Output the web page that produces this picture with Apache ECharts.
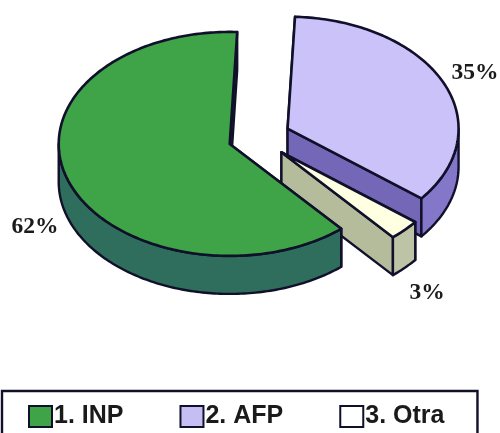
<!DOCTYPE html>
<html><head><meta charset="utf-8"><style>html,body{margin:0;padding:0;background:#fff}#c{width:500px;height:433px}</style>
<script src="https://cdn.jsdelivr.net/npm/echarts@6/dist/echarts.min.js"></script></head>
<body><div id="c"></div>
<script>
var names = ['1. INP', '2. AFP', '3. Otra'];
var values = [62, 35, 3];

var colorsTop = ['#3FA348', '#CCC2FA', '#FFFFE2'];
var colorsRim = ['#2F6E5C', '#8476C8', '#BDC4A6'];
var colorsCut = ['#2F6E5C', '#7467B8', '#B4BC9C'];
var legendColors = ['#3FA348', '#C6BEF2', '#FFFFFF'];
var labelPos = [[35, 227], [475, 73], [427, 293]];
var explode = [0.175, 0.19, 0.19];
var order = [3, 1, 2];
var ink = '#10102A';

var CX = 258, CY = 137.5, RX = 171, RY = 112, DEPTH = 38;
var START = -49.3; // first slice starts here and runs clockwise
var total = values.reduce(function (a, b) { return a + b; }, 0);

function sliceOf(i) {
  var before = 0;
  for (var k = 0; k < i; k++) before += values[k];
  var a0 = START - before / total * 360;
  var a1 = a0 - values[i] / total * 360;
  var mid = (a0 + a1) / 2 * Math.PI / 180;
  return {
    a0: a0, a1: a1,
    ox: CX + explode[i] * RX * Math.cos(mid),
    oy: CY - explode[i] * RY * Math.sin(mid)
  };
}
function pt(s, deg, dz) {
  var t = deg * Math.PI / 180;
  return [s.ox + RX * Math.cos(t), s.oy - RY * Math.sin(t) + (dz || 0)];
}
function arc(s, from, to, dz) {
  var pts = [], n = Math.max(2, Math.ceil(Math.abs(from - to)));
  for (var j = 0; j <= n; j++) pts.push(pt(s, from + (to - from) * j / n, dz));
  return pts;
}
function poly(points, fill, width) {
  return { type: 'polygon', shape: { points: points },
    style: { fill: fill, stroke: ink, lineWidth: width || 2.4, lineJoin: 'round' } };
}
function renderSlice(i) {
  var s = sliceOf(i), kids = [];
  var apex = [s.ox, s.oy], apexLow = [s.ox, s.oy + DEPTH];
  [s.a0, s.a1].forEach(function (a) {
    kids.push(poly([apex, pt(s, a), pt(s, a, DEPTH), apexLow], colorsCut[i]));
  });
  // outer rim: only the front half of the ellipse is visible
  for (var base = -360; base < 360; base += 360) {
    var hi = Math.min(s.a0, base), lo = Math.max(s.a1, base - 180);
    if (hi > lo) {
      kids.push(poly(arc(s, hi, lo, 0).concat(arc(s, lo, hi, DEPTH)), colorsRim[i]));
    }
  }
  kids.push(poly([apex].concat(arc(s, s.a0, s.a1, 0)), colorsTop[i], 2.6));
  kids.push({ type: 'text', silent: true, z2: 10,
    style: { x: labelPos[i][0], y: labelPos[i][1], text: values[i] + '%',
      fill: '#1A1A1A', align: 'center', verticalAlign: 'middle',
      font: 'bold 23.5px "Liberation Serif"' } });
  return { type: 'group', children: kids };
}

var chart = echarts.init(document.getElementById('c'), null, { renderer: 'canvas' });
chart.setOption({
  animation: false,
  backgroundColor: '#ffffff',
  legend: {
    left: 2, top: 391,
    padding: [13, 33, 7, 26],
    itemGap: 56, itemWidth: 23, itemHeight: 21,
    borderColor: ink, borderWidth: 2.4,
    selectedMode: false,
    textStyle: { fontFamily: 'Liberation Sans', fontWeight: 'bold', fontSize: 25, color: '#1A1A1A', padding: [0, 0, 0, -3] },
    data: names.map(function (n, i) {
      return { name: n, icon: 'rect',
        itemStyle: { color: legendColors[i], borderColor: ink, borderWidth: 2 } };
    })
  },
  series: names.map(function (n, i) {
    return {
      type: 'custom', name: n, coordinateSystem: 'none', z: order[i],
      silent: true, clip: false,
      data: [values[i]],
      renderItem: function () { return renderSlice(i); }
    };
  })
});
</script></body></html>
